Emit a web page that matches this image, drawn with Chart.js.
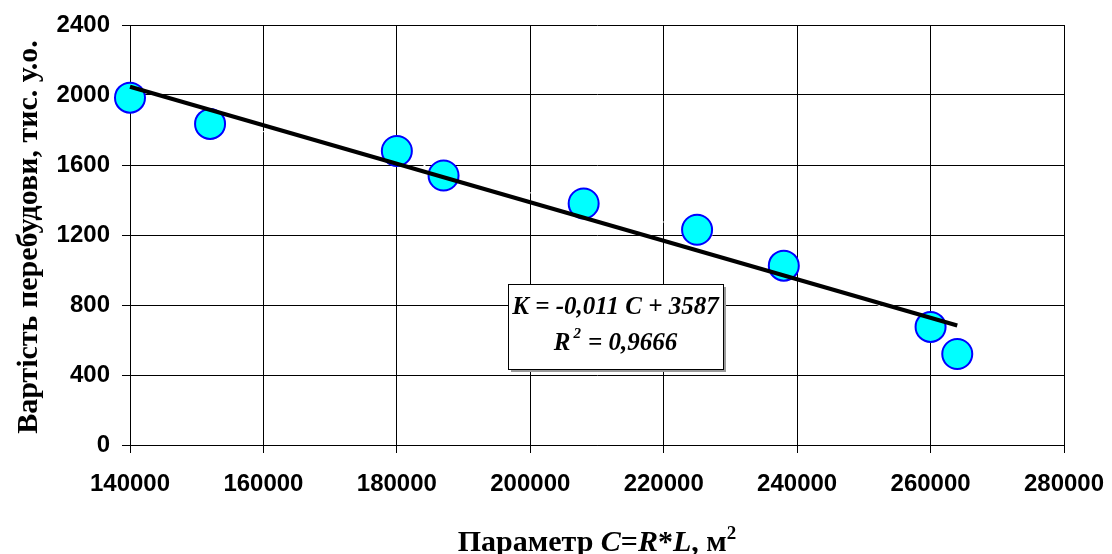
<!DOCTYPE html>
<html>
<head>
<meta charset="utf-8">
<title>Вартість перебудови</title>
<script src="https://cdn.jsdelivr.net/npm/chart.js@4.4.1/dist/chart.umd.min.js"></script>
<style>
  html, body { margin: 0; padding: 0; background: #fff; }
  #wrap { position: relative; width: 1112px; height: 554px; }
</style>
</head>
<body>
<div id="wrap"><canvas id="costChart" width="1112" height="554"></canvas></div>
<script>
// measured points (parameter C, cost K)
const paramC = [140000, 152000, 180000, 187000, 208000, 225000, 238000, 260000, 264000];
const costK = [1985, 1835, 1680, 1540, 1380, 1230, 1025, 675, 520];

// linear trend, ends of the drawn line
const trendC = [140000, 264000];
const trendK = [2047, 683];

const xTickRange = [140000, 280000, 20000];
const yTickRange = [0, 2400, 400];

const yTitle = 'Вартість перебудови, тис. у.о.';
const eqLine1 = 'K = -0,011 C + 3587';
const eqLine2 = ['R', '2', ' = 0,9666'];

const toPoints = (xs, ys) => xs.map((x, i) => ({ x: x, y: ys[i] }));

// axis titles + equation box drawn straight on canvas
const labelsPlugin = {
  id: 'labels',
  afterDraw(chart) {
    const ctx = chart.ctx;
    const area = chart.chartArea;
    ctx.save();
    ctx.fillStyle = '#000';

    // y title
    ctx.save();
    ctx.translate(29, (area.top + area.bottom) / 2 + 2);
    ctx.rotate(-Math.PI / 2);
    ctx.font = 'bold 30px "Liberation Serif"';
    ctx.textAlign = 'center';
    ctx.textBaseline = 'middle';
    ctx.fillText(yTitle, 0, 0);
    ctx.restore();

    // x title, mixed upright / italic parts
    const parts = [
      ['Параметр ', 'bold 30px "Liberation Serif"', 0],
      ['C', 'italic bold 30px "Liberation Serif"', 0],
      ['=', 'bold 30px "Liberation Serif"', 0],
      ['R', 'italic bold 30px "Liberation Serif"', 0],
      ['*', 'bold 30px "Liberation Serif"', 0],
      ['L', 'italic bold 30px "Liberation Serif"', 0],
      [', м', 'bold 30px "Liberation Serif"', 0],
      ['2', 'bold 19px "Liberation Serif"', -12]
    ];
    let total = 0;
    parts.forEach(p => { ctx.font = p[1]; total += ctx.measureText(p[0]).width; });
    let px = (area.left + area.right) / 2 - total / 2;
    ctx.textAlign = 'left';
    ctx.textBaseline = 'alphabetic';
    parts.forEach(p => {
      ctx.font = p[1];
      ctx.fillText(p[0], px, 551 + p[2]);
      px += ctx.measureText(p[0]).width;
    });

    // equation box
    const bx = 508, by = 284, bw = 215, bh = 85;
    ctx.fillStyle = '#9a9a9a';
    ctx.fillRect(bx + 3, by + 3, bw, bh);
    ctx.fillStyle = '#fff';
    ctx.fillRect(bx, by, bw, bh);
    ctx.strokeStyle = '#000';
    ctx.lineWidth = 1;
    ctx.strokeRect(bx + 0.5, by + 0.5, bw, bh);

    ctx.fillStyle = '#000';
    ctx.font = 'italic bold 25px "Liberation Serif"';
    ctx.textAlign = 'center';
    ctx.fillText(eqLine1, bx + bw / 2, 314);

    const f2 = 'italic bold 25px "Liberation Serif"';
    const fs = 'italic bold 15px "Liberation Serif"';
    ctx.font = f2;
    const w0 = ctx.measureText(eqLine2[0]).width;
    const w2 = ctx.measureText(eqLine2[2]).width;
    ctx.font = fs;
    const w1 = ctx.measureText(eqLine2[1] + ' ').width;
    let ex = bx + bw / 2 - (w0 + w1 + w2) / 2;
    ctx.textAlign = 'left';
    ctx.font = f2;
    ctx.fillText(eqLine2[0], ex, 350);
    ex += w0 + 3;
    ctx.font = fs;
    ctx.fillText(eqLine2[1], ex, 338);
    ex += w1 - 3;
    ctx.font = f2;
    ctx.fillText(eqLine2[2], ex, 350);

    ctx.restore();
  }
};

const tickFont = { family: '"Liberation Sans"', size: 24, weight: 'bold' };

new Chart(document.getElementById('costChart'), {
  type: 'scatter',
  data: {
    datasets: [
      {
        label: 'Тренд',
        data: toPoints(trendC, trendK),
        showLine: true,
        borderColor: '#000',
        borderWidth: 4,
        pointRadius: 0,
        clip: false,
        order: 0
      },
      {
        label: 'Вартість',
        data: toPoints(paramC, costK),
        showLine: true,
        borderColor: '#ffffff',
        borderWidth: 1,
        pointRadius: 15,
        pointBackgroundColor: '#00ffff',
        pointBorderColor: '#0000ff',
        pointBorderWidth: 2,
        clip: false,
        order: 1
      }
    ]
  },
  options: {
    responsive: false,
    animation: false,
    layout: { padding: { top: 25, right: 48, left: 0, bottom: 0 } },
    plugins: { legend: { display: false }, tooltip: { enabled: false } },
    scales: {
      x: {
        type: 'linear',
        min: xTickRange[0],
        max: xTickRange[1],
        ticks: {
          stepSize: xTickRange[2],
          color: '#000',
          font: tickFont,
          padding: 17,
          maxRotation: 0,
          callback: v => String(v)
        },
        grid: { color: '#000', lineWidth: 1, tickLength: 8 },
        border: { color: '#000', width: 1 },
        afterFit: s => { s.height = 109; s.paddingLeft = 0; s.paddingRight = 0; }
      },
      y: {
        type: 'linear',
        min: yTickRange[0],
        max: yTickRange[1],
        ticks: {
          stepSize: yTickRange[2],
          color: '#000',
          font: tickFont,
          padding: 12,
          callback: v => String(v)
        },
        grid: { color: '#000', lineWidth: 1, tickLength: 8 },
        border: { color: '#000', width: 1 },
        afterFit: s => { s.width = 130; s.paddingTop = 0; s.paddingBottom = 0; }
      }
    }
  },
  plugins: [labelsPlugin]
});
</script>
</body>
</html>
